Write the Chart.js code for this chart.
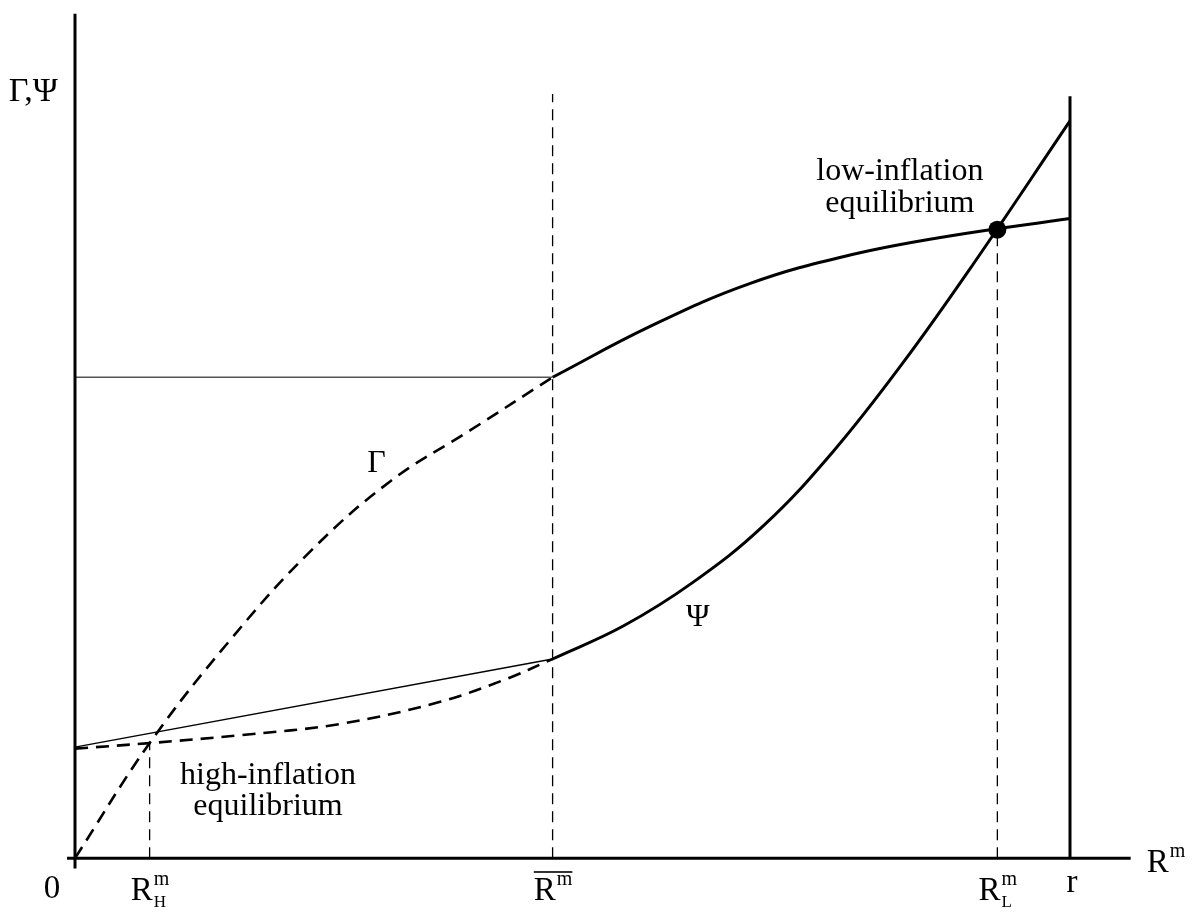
<!DOCTYPE html>
<html>
<head>
<meta charset="utf-8">
<script src="https://cdn.jsdelivr.net/npm/chart.js@4.4.0/dist/chart.umd.min.js"></script>
<style>
  html, body { margin: 0; padding: 0; background: #fff; }
  #chart { display: block; }
</style>
</head>
<body>
<canvas id="chart" width="1198" height="915"></canvas>
<script>
(function () {
    'use strict';

    // Gamma curve, dashed part (below R-bar) and solid part (above)
    const gammaDashX = [0, 7.5, 15.6, 23.6, 31.7, 39.7, 48];
    const gammaDashY = [0, 14.5, 27.5, 38.6, 47.5, 53.9, 60.6];
    const gammaSolidX = [48, 57.8, 67.8, 77.9, 87.9, 100];
    const gammaSolidY = [60.6, 67.0, 72.4, 76.0, 78.4, 80.6];

    // Psi curve, dashed part and solid part
    const psiDashX = [0, 7.5, 16.6, 26.6, 36.7, 43.4, 48];
    const psiDashY = [13.8, 14.5, 15.5, 16.9, 19.7, 22.6, 25.1];
    const psiSolidX = [48, 55.1, 62.1, 69.2, 76.2, 83.2, 90.3, 100];
    const psiSolidY = [25.1, 29.25, 34.75, 41.9, 51.25, 62.4, 74.9, 92.9];

    // thin flat segments below R-bar
    const gammaFlatX = [0, 48];
    const gammaFlatY = [60.6, 60.6];
    const psiFlatX = [0, 48];
    const psiFlatY = [14.0, 25.1];

    // key points on the R^m axis
    const rHigh = 7.5;
    const rBar = 48;
    const rLow = 92.7;
    const rMax = 100;
    const eqLowY = 79.2;
    const eqHighY = 14.5;
    const rBarTop = 96.3;
    const rLineTop = 96;
    const yAxisTop = 106.4;

    const tickValues = [0, rHigh, rBar, rLow, rMax];
    const tickLabels = [
        { base: '0' },
        { base: 'R', sup: 'm', sub: 'H' },
        { base: 'R', sup: 'm', bar: true },
        { base: 'R', sup: 'm', sub: 'L' },
        { base: 'r' }
    ];

    const pts = (xs, ys) => xs.map((x, i) => ({ x: x, y: ys[i] }));

    const line = (data, opts) => Object.assign({
        data: data,
        showLine: true,
        borderColor: '#000',
        borderWidth: 3,
        pointRadius: 0,
        fill: false,
        tension: 0,
        clip: false
    }, opts);

    const curveDash = [13, 8];
    const guideDash = [11, 7];

    const datasets = [
        // axes
        line([{ x: -0.8, y: 0 }, { x: 106.1, y: 0 }], { borderWidth: 3 }),
        line([{ x: 0, y: -1.3 }, { x: 0, y: yAxisTop }], { borderWidth: 3 }),
        line([{ x: rMax, y: 0 }, { x: rMax, y: rLineTop }], { borderWidth: 3 }),
        // guides
        line([{ x: rHigh, y: 0 }, { x: rHigh, y: eqHighY }], { borderWidth: 1.3, borderDash: guideDash }),
        line([{ x: rBar, y: 0 }, { x: rBar, y: rBarTop }], { borderWidth: 1.3, borderDash: guideDash }),
        line([{ x: rLow, y: 0 }, { x: rLow, y: eqLowY }], { borderWidth: 1.3, borderDash: guideDash }),
        // flat pieces
        line(pts(gammaFlatX, gammaFlatY), { borderWidth: 1.6, borderColor: '#555' }),
        line(pts(psiFlatX, psiFlatY), { borderWidth: 1.3 }),
        // curves
        line(pts(gammaDashX, gammaDashY), { borderWidth: 2.6, borderDash: curveDash, tension: 0.4 }),
        line(pts(psiDashX, psiDashY), { borderWidth: 2.6, borderDash: curveDash, tension: 0.35 }),
        line(pts(gammaSolidX, gammaSolidY), { borderWidth: 3, tension: 0.4 }),
        line(pts(psiSolidX, psiSolidY), { borderWidth: 3, tension: 0.4 }),
        // low-inflation equilibrium dot
        {
            data: [{ x: rLow, y: eqLowY }],
            showLine: false,
            pointRadius: 9,
            pointBackgroundColor: '#000',
            pointBorderWidth: 0,
            clip: false
        }
    ];

    const FONT = '"Liberation Serif", "DejaVu Serif", serif';

    // text placed in data coordinates
    const notes = [
        { text: 'low-inflation', x: 82.9, y: 85.4 },
        { text: 'equilibrium', x: 82.9, y: 81.4 },
        { text: 'high-inflation', x: 19.4, y: 9.4 },
        { text: 'equilibrium', x: 19.4, y: 5.4 },
        { text: 'Γ', x: 30.3, y: 48.6 },
        { text: 'Ψ', x: 62.6, y: 29.2 }
    ];

    // draws base + optional sup/sub/overline, centred on cx
    function drawRich(ctx, cx, baseY, lab) {
        ctx.font = '33px ' + FONT;
        const wb = ctx.measureText(lab.base).width;
        let ws = 0;
        if (lab.sup) {
            ctx.font = '20px ' + FONT;
            ws = ctx.measureText(lab.sup).width;
        }
        if (lab.sub) {
            ctx.font = '17px ' + FONT;
            ws = Math.max(ws, ctx.measureText(lab.sub).width);
        }
        const x0 = cx - (wb + ws) / 2;
        ctx.textAlign = 'left';
        ctx.textBaseline = 'alphabetic';
        ctx.font = '33px ' + FONT;
        ctx.fillText(lab.base, x0, baseY);
        if (lab.sup) {
            ctx.font = '20px ' + FONT;
            ctx.fillText(lab.sup, x0 + wb + 1, baseY - 15);
        }
        if (lab.sub) {
            ctx.font = '17px ' + FONT;
            ctx.fillText(lab.sub, x0 + wb + 1, baseY + 7);
        }
        if (lab.bar) {
            ctx.fillRect(x0, baseY - 29, wb + ws + 1, 1.6);
        }
    }

    const textPlugin = {
        id: 'diagramText',
        afterDatasetsDraw(chart) {
            const ctx = chart.ctx;
            const xs = chart.scales.x;
            const ys = chart.scales.y;
            ctx.save();
            ctx.fillStyle = '#000';

            // tick labels under the R^m axis
            tickValues.forEach((v, i) => {
                const lab = tickLabels[i];
                let cx = xs.getPixelForValue(v);
                let by = ys.getPixelForValue(0) + 42;
                if (lab.base === '0') { cx -= 23; by = ys.getPixelForValue(0) + 40; }
                if (lab.base === 'r') { cx += 2; by = ys.getPixelForValue(0) + 34; }
                drawRich(ctx, cx, by, lab);
            });

            // axis names
            drawRich(ctx, xs.getPixelForValue(109.6), ys.getPixelForValue(-1.75), { base: 'R', sup: 'm' });
            ctx.font = '34px ' + FONT;
            ctx.textAlign = 'center';
            ctx.textBaseline = 'alphabetic';
            ctx.fillText('Γ,Ψ', xs.getPixelForValue(-4.2), ys.getPixelForValue(95.4));

            // annotations
            ctx.font = '32px ' + FONT;
            notes.forEach(n => {
                ctx.fillText(n.text, xs.getPixelForValue(n.x), ys.getPixelForValue(n.y));
            });
            ctx.restore();
        }
    };

    new Chart(document.getElementById('chart').getContext('2d'), {
        type: 'scatter',
        data: { datasets: datasets },
        options: {
            responsive: false,
            animation: false,
            layout: { padding: { left: 55.1, right: 48.4, top: 2, bottom: 33 } },
            scales: {
                x: { type: 'linear', min: -2, max: 108, display: false },
                y: { type: 'linear', min: -3, max: 107, display: false }
            },
            plugins: {
                legend: { display: false },
                tooltip: { enabled: false }
            }
        },
        plugins: [textPlugin]
    });
})();
</script>
</body>
</html>
